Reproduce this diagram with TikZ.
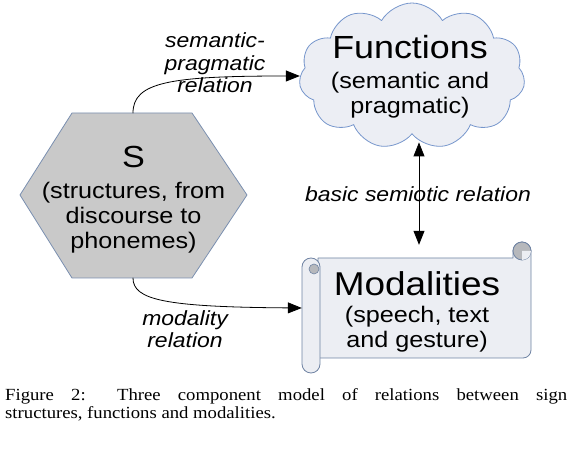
\documentclass[tikz,border=0pt]{standalone}
\usepackage{fontspec}
\setmainfont[FakeStretch=1.1]{Liberation Serif}
\newfontfamily\diagfont[FakeStretch=1.12]{Liberation Sans}
\usetikzlibrary{arrows.meta, calc, shapes.symbols, positioning}
\definecolor{hexgray}{RGB}{201,201,201}
\definecolor{hexline}{RGB}{122,143,176}
\definecolor{cloudfill}{RGB}{236,238,244}
\definecolor{cloudline}{RGB}{118,150,204}
\definecolor{scrollfill}{RGB}{236,238,243}
\definecolor{scrollline}{RGB}{111,131,163}
\definecolor{curlgray}{RGB}{182,184,188}
\newcommand{\bigtitle}{\fontsize{32}{32}\selectfont}
\newcommand{\subtext}{\fontsize{22.5}{25}\selectfont}
\newcommand{\rellabel}{\fontsize{20.5}{22.5}\selectfont\itshape}

\begin{document}
\begin{tikzpicture}[x=1pt, y=1pt, line join=round, line cap=round,
    >={Triangle[length=14pt,width=11pt]},
    rel/.style={->, line width=0.8pt, black},
    boxtext/.style={align=center, inner sep=0pt, font=\diagfont\subtext},
    reltext/.style={align=center, inner sep=0pt, font=\diagfont\rellabel}]
    \useasboundingbox (0,0) rectangle (574,474);

    % Khoi S (luc giac)
    \draw[fill=hexgray, draw=hexline, line width=0.8pt]
        (20,279) -- (72,361) -- (192,361) -- (247,279) -- (192,196) -- (72,196) -- cycle;
    \coordinate (stop) at (133,361);
    \coordinate (sbot) at (133,196);
    \node[boxtext] (s) at (133.5,274)
        {{\fontsize{30.5}{30}\selectfont S}\\[6pt](structures, from\\discourse to\\phonemes)};

    % Dam may Functions
    \node[cloud, cloud puffs=11, cloud puff arc=120, aspect=1.6,
        minimum width=226pt, minimum height=146pt, inner sep=0pt,
        fill=cloudfill, draw=cloudline, line width=0.8pt] (fun) at (412,398) {};
    \node[boxtext] (funtext) at (410,397)
        {{\bigtitle Functions}\\[5pt](semantic and\\pragmatic)};

    % Cuon giay Modalities
    \node[minimum width=230pt, minimum height=100pt, inner sep=0pt] (mod) at (417,166) {};
    \draw[fill=scrollfill, draw=scrollline, line width=0.8pt]
        (318,216) -- (513,216) -- (513,223) arc[start angle=180, end angle=0, radius=9]
        -- (531,124) arc[start angle=0, end angle=-90, radius=8] -- (318,116) -- cycle;
    \draw[fill=curlgray, draw=scrollline, line width=0.8pt] (522,223) circle (9);
    \fill[scrollfill] (522,223) -- (531,223) arc[start angle=0, end angle=-90, radius=9] -- cycle;
    \draw[fill=scrollfill, draw=scrollline, line width=0.8pt, rounded corners=9pt]
        (302,101) rectangle (320,216);
    \draw[fill=curlgray, draw=scrollline, line width=0.6pt] (314,205) circle (5);
    \node[boxtext] (modtext) at (417,162)
        {{\fontsize{33}{33}\selectfont Modalities}\\[2pt](speech, text\\and gesture)};

    % Cac quan he
    \node[reltext] (semlab) at (215,411) {semantic-\\pragmatic\\relation};
    \node[reltext] (modlab) at (185,145) {modality\\relation};
    \node[reltext] (baslab) at (418,280) {basic semiotic relation};
    \draw[rel] (stop) .. controls (133,392) and (170,398) .. (fun.west);
    \draw[rel] (sbot) .. controls (133,174) and (165,167) .. (mod.west);
    \draw[rel, <->] ([xshift=7pt, yshift=-8pt]fun.south) -- ([xshift=2pt, yshift=13pt]mod.north);

    % Chu thich
    \node[anchor=north west, inner sep=0pt, align=left, font=\fontsize{17}{18.5}\selectfont]
        (cap) at (5,86)
        {\makebox[562pt][s]{Figure 2: Three component model of relations between sign}\\
         structures, functions and modalities.};
\end{tikzpicture}
\end{document}
